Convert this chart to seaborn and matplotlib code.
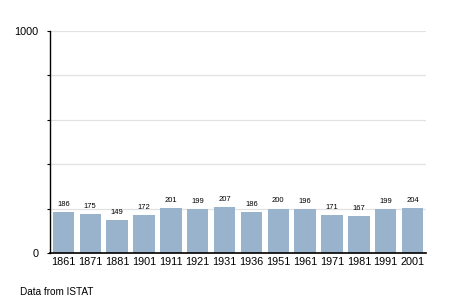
import matplotlib
matplotlib.use("Agg")
import matplotlib.pyplot as plt
import seaborn as sns
import pandas as pd

years = ["1861", "1871", "1881", "1901", "1911", "1921", "1931", "1936",
         "1951", "1961", "1971", "1981", "1991", "2001"]
population = [186, 175, 149, 172, 201, 199, 207, 186, 200, 196, 171, 167, 199, 204]
y_ticks_labeled = [0, 1000]
y_grid = [200, 400, 600, 800, 1000]
source_note = "Data from ISTAT"

sns.set_theme(style="white")
plt.rcParams['font.family'] = ['Liberation Sans', 'DejaVu Sans']
plt.rcParams['text.color'] = 'black'
plt.rcParams['xtick.color'] = 'black'
plt.rcParams['ytick.color'] = 'black'

df = pd.DataFrame({"year": years, "pop": population})

fig = plt.figure(figsize=(4.55, 3.03), dpi=100)
ax = fig.add_axes([50/455, 50/303, 376/455, 222/303])

sns.barplot(data=df, x="year", y="pop", color="#9AB3CC", saturation=1,
            width=0.8, ax=ax, zorder=3, linewidth=0, edgecolor="none")

ax.set_ylim(0, 1000)
ax.set_xlim(-0.5, len(years) - 0.5)
for g in y_grid:
    ax.axhline(g, color="#e2e2e2", lw=0.9, zorder=1)

ax.set_yticks(y_ticks_labeled)
ax.set_yticklabels([str(t) for t in y_ticks_labeled], fontsize=7.8, color="black")
ax.set_yticks(y_grid[:-1], minor=True)
ax.tick_params(axis="y", which="both", direction="out", length=2.5, width=0.8,
               color="black", left=True, pad=6, labelcolor="black")
ax.tick_params(axis="x", length=0, labelsize=7.8, pad=3, labelcolor="black")

for s in ["top", "right"]:
    ax.spines[s].set_visible(False)
ax.spines["left"].set_color("black")
ax.spines["bottom"].set_color("black")
ax.spines["left"].set_linewidth(1.0)
ax.spines["bottom"].set_linewidth(1.2)
ax.spines["bottom"].set_zorder(4)
ax.set_xlabel("")
ax.set_ylabel("")

ax.bar_label(ax.containers[0], labels=[str(v) for v in population],
             fontsize=5.5, padding=3, color="black")

fig.text(20/455, 1 - 292/303, source_note, fontsize=7.2, va="center", ha="left",
         color="black")

fig.savefig("out.png", dpi=100)
